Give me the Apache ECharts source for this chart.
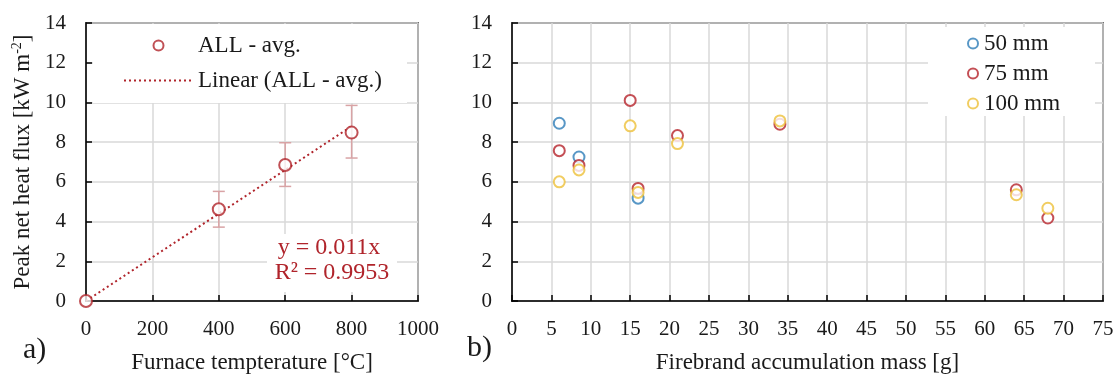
<!DOCTYPE html>
<html>
<head>
<meta charset="utf-8">
<script src="https://cdn.jsdelivr.net/npm/echarts@6/dist/echarts.min.js"></script>
<style>html,body{margin:0;padding:0;background:#fff}#c{width:1120px;height:379px}</style>
</head>
<body>
<div id="c"></div>
<script>
// ---- Panel a) data ----
var furnaceTemp = [0, 400, 600, 800];
var avgFlux = [0, 4.62, 6.85, 8.48];
var errLow = [0, 3.72, 5.77, 7.2];
var errHigh = [0, 5.52, 7.97, 9.85];
var trendX = [0, 800];
var trendY = [0, 8.8];
var xTicksA = [0, 200, 400, 600, 800, 1000];
var yTicks = [0, 2, 4, 6, 8, 10, 12, 14];

// ---- Panel b) data ----
var mass50 = [6, 8.5, 16];
var flux50 = [8.95, 7.25, 5.18];
var mass75 = [6, 8.5, 15, 16, 21, 34, 64, 68];
var flux75 = [7.57, 6.83, 10.1, 5.67, 8.33, 8.9, 5.6, 4.18];
var mass100 = [6, 8.5, 15, 16, 21, 34, 64, 68];
var flux100 = [6.0, 6.6, 8.82, 5.47, 7.93, 9.07, 5.35, 4.67];
var xTicksB = [0, 5, 10, 15, 20, 25, 30, 35, 40, 45, 50, 55, 60, 65, 70, 75];

function zip(a, b) { return a.map(function (v, i) { return [v, b[i]]; }); }

var FONT = 'Liberation Serif';
var TXT = '#1a1a1a';
var GRIDC = '#d9d9d9';
var DRED = '#B0242B';

function xAxisCfg(idx, ticks, name, nameGap) {
  return {
    type: 'value', gridIndex: idx,
    min: ticks[0], max: ticks[ticks.length - 1], interval: ticks[1] - ticks[0],
    name: name, nameLocation: 'middle', nameGap: nameGap,
    nameTextStyle: { fontFamily: FONT, fontSize: 23, color: TXT },
    axisLine: { show: true, onZero: false, lineStyle: { color: '#000', width: 1.5 } },
    axisTick: { show: true, inside: true, length: 6, lineStyle: { color: '#000', width: 1.5 } },
    axisLabel: { fontFamily: FONT, fontSize: 21, color: TXT, margin: 18, formatter: function (v) { return String(v); } },
    splitLine: { show: true, lineStyle: { color: GRIDC, width: 1.5 } }
  };
}
function yAxisCfg(idx, name) {
  return {
    type: 'value', gridIndex: idx, min: yTicks[0], max: yTicks[yTicks.length - 1], interval: yTicks[1] - yTicks[0],
    name: name, nameLocation: 'middle', nameGap: 50, nameRotate: 90,
    nameTextStyle: { fontFamily: FONT, fontSize: 23, color: TXT,
      rich: { sup: { fontFamily: FONT, fontSize: 14, color: TXT, padding: [0, 0, 12, 0] } } },
    axisLine: { show: true, onZero: false, lineStyle: { color: '#000', width: 1.5 } },
    axisTick: { show: true, inside: true, length: 6, lineStyle: { color: '#000', width: 1.5 } },
    axisLabel: { fontFamily: FONT, fontSize: 21, color: TXT, margin: 20 },
    splitLine: { show: true, lineStyle: { color: GRIDC, width: 1.5 } }
  };
}

var errData = furnaceTemp.map(function (x, i) { return [x, errLow[i], errHigh[i]]; }).filter(function (d) { return d[2] > d[1]; });

var chart = echarts.init(document.getElementById('c'), null, { renderer: 'canvas' });
chart.setOption({
  animation: false,
  backgroundColor: '#fff',
  grid: [
    { left: 86, right: 702, top: 23, bottom: 76, show: true, borderColor: '#000', borderWidth: 1.5, backgroundColor: 'transparent' },
    { left: 512, right: 17, top: 23, bottom: 76, show: true, borderColor: '#000', borderWidth: 1.5, backgroundColor: 'transparent' }
  ],
  xAxis: [
    xAxisCfg(0, xTicksA, 'Furnace tempterature [°C]', 50),
    xAxisCfg(1, xTicksB, 'Firebrand accumulation mass [g]', 50)
  ],
  yAxis: [
    yAxisCfg(0, 'Peak net heat flux [kW m{sup|-2}]'),
    yAxisCfg(1, '')
  ],
  legend: [
    {
      left: 123, top: 34, orient: 'vertical', itemWidth: 69, itemHeight: 10, itemGap: 12, padding: 0,
      textStyle: { fontFamily: FONT, fontSize: 23, color: TXT },
      data: ['ALL - avg.', { name: 'Linear (ALL - avg.)', itemStyle: { opacity: 0 } }]
    },
    {
      left: 967, top: 32, orient: 'vertical', itemWidth: 12, itemHeight: 10, itemGap: 7, padding: 0,
      textStyle: { fontFamily: FONT, fontSize: 23, color: TXT },
      data: ['50 mm', '75 mm', '100 mm']
    }
  ],
  graphic: [
    { type: 'rect', z: 1, silent: true, shape: { x: 93, y: 24, width: 314, height: 79 }, style: { fill: '#fff' } },
    { type: 'rect', z: 1, silent: true, shape: { x: 928, y: 27, width: 167, height: 89 }, style: { fill: '#fff' } },
    { type: 'rect', z: 1, silent: true, shape: { x: 267, y: 234, width: 130, height: 58 }, style: { fill: '#fff' } },
    { type: 'text', z: 3, silent: true, style: { x: 329, y: 248, text: 'y = 0.011x', textAlign: 'center', textVerticalAlign: 'middle', fill: DRED, font: '24px "Liberation Serif"' } },
    { type: 'text', z: 3, silent: true, style: { x: 332, y: 273, text: 'R² = 0.9953', textAlign: 'center', textVerticalAlign: 'middle', fill: DRED, font: '24px "Liberation Serif"' } },
    { type: 'text', z: 3, silent: true, style: { x: 23, y: 350, text: 'a)', textAlign: 'left', textVerticalAlign: 'middle', fill: TXT, font: '30px "Liberation Serif"' } },
    { type: 'text', z: 3, silent: true, style: { x: 467, y: 348, text: 'b)', textAlign: 'left', textVerticalAlign: 'middle', fill: TXT, font: '30px "Liberation Serif"' } }
  ],
  series: [
    {
      type: 'custom', xAxisIndex: 0, yAxisIndex: 0, z: 3, silent: true,
      data: errData,
      renderItem: function (params, api) {
        var x = api.value(0);
        var lo = api.coord([x, api.value(1)]);
        var hi = api.coord([x, api.value(2)]);
        var st = { stroke: '#d9a3a5', lineWidth: 1.5 };
        return {
          type: 'group',
          children: [
            { type: 'line', shape: { x1: lo[0], y1: lo[1], x2: hi[0], y2: hi[1] }, style: st },
            { type: 'line', shape: { x1: lo[0] - 6, y1: lo[1], x2: lo[0] + 6, y2: lo[1] }, style: st },
            { type: 'line', shape: { x1: hi[0] - 6, y1: hi[1], x2: hi[0] + 6, y2: hi[1] }, style: st }
          ]
        };
      }
    },
    {
      name: 'Linear (ALL - avg.)', type: 'line', xAxisIndex: 0, yAxisIndex: 0, z: 4,
      data: zip(trendX, trendY), symbol: 'none', silent: true,
      lineStyle: { color: DRED, width: 2, type: [2, 3] }, itemStyle: { color: DRED }
    },
    {
      name: 'ALL - avg.', type: 'scatter', xAxisIndex: 0, yAxisIndex: 0, z: 5,
      data: zip(furnaceTemp, avgFlux), symbol: 'emptyCircle', symbolSize: 12,
      itemStyle: { color: DRED, borderColor: DRED, borderWidth: 2 }
    },
    {
      name: '50 mm', type: 'scatter', xAxisIndex: 1, yAxisIndex: 1, z: 5,
      data: zip(mass50, flux50), symbol: 'emptyCircle', symbolSize: 11,
      itemStyle: { color: '#2E7DB8', borderColor: '#2E7DB8', borderWidth: 2 }
    },
    {
      name: '75 mm', type: 'scatter', xAxisIndex: 1, yAxisIndex: 1, z: 5,
      data: zip(mass75, flux75), symbol: 'emptyCircle', symbolSize: 11,
      itemStyle: { color: '#B5232B', borderColor: '#B5232B', borderWidth: 2 }
    },
    {
      name: '100 mm', type: 'scatter', xAxisIndex: 1, yAxisIndex: 1, z: 5,
      data: zip(mass100, flux100), symbol: 'emptyCircle', symbolSize: 11,
      itemStyle: { color: '#EDC03A', borderColor: '#EDC03A', borderWidth: 2 }
    }
  ]
});
</script>
</body>
</html>
